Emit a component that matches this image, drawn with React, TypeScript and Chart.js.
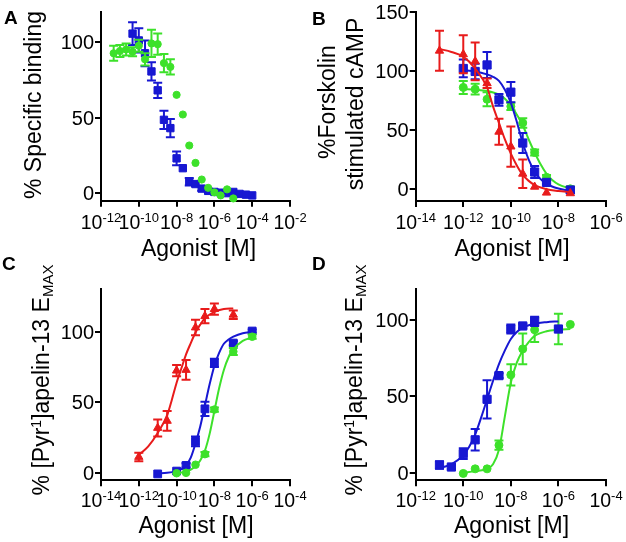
import React, { useEffect, useRef } from 'react';
import { Chart, registerables } from 'chart.js';

Chart.register(...registerables);

const W = 626;
const H = 542;
const FONT = '"Liberation Sans", Arial, Helvetica, sans-serif';
const BLUE = '#1717d2';
const GREEN = '#3de12a';
const RED = '#e81b1b';

// ---------- Panel A : % specific binding ----------
const aBlueX = [-10.33, -10, -9.67, -9.33, -9, -8.67, -8.33, -8, -7.67, -7.33, -7, -6.67, -6.33, -6, -5.67, -5.33, -5, -4.67, -4.33, -4];
const aBlueY = [105.5, 101, 92.5, 80.5, 68, 48.5, 43, 23, 16.5, 7.5, 6, 3, 1.5, 0.8, 0.3, 0, 0.8, -0.5, -1, -1.5];
const aBlueErr = [7.5, 8, 8.5, 6, 5, 6, 6, 4.5, 0, 2.5, 1.5, 1.5, 0, 0, 0, 0, 0, 0, 0, 0];
const aGreenX = [-11.33, -11, -10.67, -10.33, -10, -9.67, -9.33, -9, -8.67, -8.33, -8, -7.67, -7.33, -7, -6.67, -6.33, -6, -5.67, -5.33, -5];
const aGreenY = [92.5, 94, 95, 93.5, 97.5, 88.5, 99, 98.5, 86, 83.5, 65, 52, 31.5, 20, 9, 3.5, 0.5, -1.5, 2.5, -3.5];
const aGreenErr = [5, 4, 4, 3, 4, 4, 9, 7, 6, 5, 0, 0, 0, 0, 0, 0, 0, 0, 0, 0];
const aXTicks = [-12, -10, -8, -6, -4, -2];
const aYTicks = [0, 50, 100];

// ---------- Panel B : % forskolin stimulated cAMP ----------
const bRedX = [-13, -12, -11.5, -11, -10.5, -10, -9.5, -9, -8.5, -7.5];
const bRedY = [117, 114, 108, 89.5, 48.5, 36, 13, 2, -3, -3.5];
const bRedErr = [17, 16, 16, 4, 11, 17, 12, 0, 0, 0];
const bBlueX = [-12, -11.5, -11, -10.5, -10, -9.5, -9, -8.5, -7.5];
const bBlueY = [102, 99.5, 105, 75.5, 82, 39, 14.5, 5.7, -0.7];
const bBlueErr = [7.5, 6.5, 11, 5, 8.5, 8.5, 5, 1.5, 2.5];
const bGreenX = [-12, -11.5, -11, -10, -9.5, -9, -8.5, -7.5];
const bGreenY = [86, 84.5, 76, 70, 56, 31, 10, 0.3];
const bGreenErr = [5.5, 4.5, 6, 3, 4, 2.5, 2, 2];
const bRedCurveX = [-13, -12.5, -12, -11.5, -11, -10.75, -10.5, -10.25, -10, -9.75, -9.5, -9.25, -9, -8.5, -8, -7.5];
const bRedCurveY = [118.5, 116, 112, 102, 86, 70, 56, 42, 30, 20, 12, 7, 3.5, 0, -1.5, -2.5];
const bBlueCurveX = [-12, -11.5, -11, -10.75, -10.5, -10.25, -10, -9.75, -9.5, -9.25, -9, -8.75, -8.5, -8, -7.5];
const bBlueCurveY = [100.5, 99.5, 97, 95, 91.5, 84, 73, 57, 39, 25, 15, 8.5, 4.5, 0.5, -1.5];
const bGreenCurveX = [-12, -11.5, -11, -10.5, -10.25, -10, -9.75, -9.5, -9.25, -9, -8.75, -8.5, -8.25, -8, -7.5];
const bGreenCurveY = [84.5, 84, 83, 80, 76.5, 71, 63, 54, 42, 31, 21, 13, 7.5, 4, 0.5];
const bXTicks = [-14, -12, -10, -8, -6];
const bYTicks = [0, 50, 100, 150];

// ---------- Panel C : % [Pyr1]apelin-13 Emax ----------
const cRedX = [-12, -11, -10.5, -10, -9.5, -9, -8.5, -8, -7];
const cRedY = [11.5, 32, 37, 72.5, 73, 103, 111, 116, 112];
const cRedErr = [3, 6, 7, 4, 7, 5.5, 5, 4, 3];
const cBlueX = [-11, -10, -9.5, -9, -8.5, -8, -7, -6];
const cBlueY = [-0.5, 1.5, 5.5, 22.5, 45.5, 78, 92, 100.5];
const cBlueErr = [0, 0, 1.5, 3.5, 5, 3, 1.5, 1];
const cGreenX = [-10, -9.5, -9, -8.5, -8, -7, -6];
const cGreenY = [0, 0.3, 6, 13.5, 45, 86, 96.5];
const cGreenErr = [0, 0, 0, 1.5, 1.5, 2.5, 1.5];
const cRedCurveX = [-12, -11.5, -11, -10.5, -10.25, -10, -9.75, -9.5, -9.25, -9, -8.75, -8.5, -8, -7.5, -7];
const cRedCurveY = [13, 19, 28.5, 41, 52, 64, 74, 84, 92, 99.5, 105, 109.5, 114, 116, 116.5];
const cBlueCurveX = [-11, -10.5, -10, -9.75, -9.5, -9.25, -9, -8.75, -8.5, -8.25, -8, -7.75, -7.5, -7.25, -7, -6.5, -6];
const cBlueCurveY = [0, 0.3, 1.5, 2.8, 5.5, 11, 21, 33, 48, 63, 76, 85, 91.5, 94.5, 96.5, 99, 100];
const cGreenCurveX = [-10, -9.5, -9.25, -9, -8.75, -8.5, -8.25, -8, -7.75, -7.5, -7.25, -7, -6.5, -6];
const cGreenCurveY = [0, 1, 2.5, 5, 9, 16, 28, 44, 60, 73, 82, 87.5, 93.5, 96];
const cXTicks = [-14, -12, -10, -8, -6, -4];
const cYTicks = [0, 50, 100];

// ---------- Panel D : % [Pyr1]apelin-13 Emax ----------
const dBlueX = [-11, -10.5, -10, -9.5, -9, -8.5, -8, -7.5, -7, -6];
const dBlueY = [5, 3.7, 12.5, 21.5, 48, 63.5, 94, 96, 99, 94];
const dBlueErr = [2.5, 1.5, 3.5, 7, 12.5, 1.5, 3, 1.5, 3, 0];
const dGreenX = [-10, -9.5, -9, -8.5, -8, -7.5, -7, -6, -5.5];
const dGreenY = [-0.5, 2.5, 2.5, 18, 64, 81, 93.5, 94, 97];
const dGreenErr = [0, 0, 0, 3, 7, 10, 8, 10, 0];
const dBlueCurveX = [-11, -10.5, -10, -9.75, -9.5, -9.25, -9, -8.75, -8.5, -8.25, -8, -7.75, -7.5, -7, -6.5, -6];
const dBlueCurveY = [3, 5.5, 11.5, 17, 25, 36, 48, 60, 71, 80, 87.5, 92, 95, 97.5, 98.5, 99];
const dGreenCurveX = [-10, -9.5, -9, -8.75, -8.5, -8.25, -8, -7.75, -7.5, -7.25, -7, -6.5, -6, -5.5];
const dGreenCurveY = [0, 1, 2.5, 5.5, 15, 37, 59, 72, 80, 85.5, 89.5, 92.5, 93.5, 94];
const dXTicks = [-12, -10, -8, -6, -4];
const dYTicks = [0, 50, 100];

// ---------- helpers ----------
type Part = { t: string; size: number; dy?: number; bold?: boolean };

function drawRich(ctx: CanvasRenderingContext2D, parts: Part[], x: number, y: number, align: string, rot = 0) {
  ctx.save();
  ctx.translate(x, y);
  if (rot) ctx.rotate(rot);
  ctx.textBaseline = 'alphabetic';
  ctx.textAlign = 'left';
  ctx.fillStyle = '#000';
  let total = 0;
  const widths = parts.map((p) => {
    ctx.font = `${p.bold ? 'bold ' : ''}${p.size}px ${FONT}`;
    const w = ctx.measureText(p.t).width;
    total += w;
    return w;
  });
  let cx = align === 'center' ? -total / 2 : align === 'right' ? -total : 0;
  parts.forEach((p, i) => {
    ctx.font = `${p.bold ? 'bold ' : ''}${p.size}px ${FONT}`;
    ctx.fillText(p.t, cx, p.dy || 0);
    cx += widths[i];
  });
  ctx.restore();
}

const pts = (xs: number[], ys: number[]) => xs.map((x, i) => ({ x, y: ys[i] }));

function markers(xs: number[], ys: number[], errs: number[], color: string, shape: string, radius: number, order: number) {
  return {
    data: pts(xs, ys),
    errs,
    showLine: false,
    pointStyle: shape,
    pointRadius: radius,
    pointBackgroundColor: color,
    pointBorderColor: color,
    pointBorderWidth: 1,
    borderColor: color,
    backgroundColor: color,
    order,
    clip: false,
  };
}

function curve(xs: number[], ys: number[], color: string, order: number) {
  return {
    data: pts(xs, ys),
    showLine: true,
    pointRadius: 0,
    borderColor: color,
    borderWidth: 2,
    cubicInterpolationMode: 'monotone',
    fill: false,
    order,
    clip: false,
  };
}

const errorBars = {
  id: 'errorBars',
  beforeDatasetDraw(chart: any, args: any) {
    const ds = chart.data.datasets[args.index];
    if (!ds.errs) return;
    const ctx = chart.ctx as CanvasRenderingContext2D;
    const ys = chart.scales.y;
    ctx.save();
    ctx.strokeStyle = ds.borderColor;
    ctx.lineWidth = 2;
    args.meta.data.forEach((el: any, i: number) => {
      const e = ds.errs[i];
      if (!e) return;
      const v = ds.data[i].y;
      const top = ys.getPixelForValue(v + e);
      const bot = ys.getPixelForValue(v - e);
      const x = el.x;
      ctx.beginPath();
      ctx.moveTo(x, top);
      ctx.lineTo(x, bot);
      ctx.moveTo(x - 4.5, top);
      ctx.lineTo(x + 4.5, top);
      ctx.moveTo(x - 4.5, bot);
      ctx.lineTo(x + 4.5, bot);
      ctx.stroke();
    });
    ctx.restore();
  },
};

const EMAX_TITLE: Part[] = [
  { t: '% [Pyr', size: 23 },
  { t: '1', size: 14, dy: -8 },
  { t: ']apelin-13 E', size: 23 },
  { t: 'MAX', size: 15, dy: 4 },
];

const PANELS: any[] = [
  {
    id: 'A',
    area: { l: 101, r: 290, t: 11.7, b: 200.7 },
    x: [-12, -2], y: [-5, 120], xTicks: aXTicks, yTicks: aYTicks,
    letter: { x: 4, y: 24 },
    yTitle: [{ parts: [{ t: '% Specific binding', size: 23 }], x: 41, y: 105 }],
    xTitle: { x: 198.5, y: 256 }, tickBase: 229,
    datasets: [
      markers(aGreenX, aGreenY, aGreenErr, GREEN, 'circle', 3.6, 1),
      markers(aBlueX, aBlueY, aBlueErr, BLUE, 'rect', 5.2, 2),
    ],
  },
  {
    id: 'B',
    area: { l: 415.7, r: 606, t: 11.7, b: 201 },
    x: [-14, -6], y: [-10, 150], xTicks: bXTicks, yTicks: bYTicks,
    letter: { x: 312, y: 25 },
    yTitle: [
      { parts: [{ t: '%Forskolin', size: 23 }], x: 335, y: 102 },
      { parts: [{ t: 'stimulated cAMP', size: 23 }], x: 363, y: 104 },
    ],
    xTitle: { x: 512, y: 256 }, tickBase: 229,
    datasets: [
      markers(bRedX, bRedY, bRedErr, RED, 'triangle', 4.8, 1),
      curve(bRedCurveX, bRedCurveY, RED, 2),
      markers(bBlueX, bBlueY, bBlueErr, BLUE, 'rect', 5.8, 3),
      curve(bBlueCurveX, bBlueCurveY, BLUE, 4),
      markers(bGreenX, bGreenY, bGreenErr, GREEN, 'circle', 4, 5),
      curve(bGreenCurveX, bGreenCurveY, GREEN, 6),
    ],
  },
  {
    id: 'C',
    area: { l: 101, r: 290, t: 289.3, b: 480.3 },
    x: [-14, -4], y: [-5, 130], xTicks: cXTicks, yTicks: cYTicks,
    letter: { x: 2, y: 270 },
    yTitle: [{ parts: EMAX_TITLE, x: 48.5, y: 380 }],
    xTitle: { x: 196, y: 533 }, tickBase: 507,
    datasets: [
      markers(cRedX, cRedY, cRedErr, RED, 'triangle', 4.8, 1),
      curve(cRedCurveX, cRedCurveY, RED, 2),
      markers(cGreenX, cGreenY, cGreenErr, GREEN, 'circle', 3.8, 3),
      curve(cGreenCurveX, cGreenCurveY, GREEN, 4),
      markers(cBlueX, cBlueY, cBlueErr, BLUE, 'rect', 5.5, 5),
      curve(cBlueCurveX, cBlueCurveY, BLUE, 6),
    ],
  },
  {
    id: 'D',
    area: { l: 415.7, r: 606, t: 289.3, b: 480.3 },
    x: [-12, -4], y: [-5, 120], xTicks: dXTicks, yTicks: dYTicks,
    letter: { x: 312, y: 270 },
    yTitle: [{ parts: EMAX_TITLE, x: 361.5, y: 380 }],
    xTitle: { x: 511.5, y: 533 }, tickBase: 507,
    datasets: [
      markers(dBlueX, dBlueY, dBlueErr, BLUE, 'rect', 5.8, 1),
      curve(dBlueCurveX, dBlueCurveY, BLUE, 2),
      markers(dGreenX, dGreenY, dGreenErr, GREEN, 'circle', 4, 3),
      curve(dGreenCurveX, dGreenCurveY, GREEN, 4),
    ],
  },
];

function decor(spec: any) {
  return {
    id: 'decor' + spec.id,
    afterDraw(chart: any) {
      const ctx = chart.ctx as CanvasRenderingContext2D;
      const xs = chart.scales.x;
      const ys = chart.scales.y;
      drawRich(ctx, [{ t: spec.id, size: 19, bold: true }], spec.letter.x, spec.letter.y, 'left');
      spec.yTicks.forEach((v: number) => {
        drawRich(ctx, [{ t: String(v), size: 20 }], spec.area.l - 7, ys.getPixelForValue(v) + 7, 'right');
      });
      spec.xTicks.forEach((v: number) => {
        drawRich(ctx, [{ t: '10', size: 19.5 }, { t: String(v), size: 13, dy: -7 }], xs.getPixelForValue(v), spec.tickBase, 'center');
      });
      drawRich(ctx, [{ t: 'Agonist [M]', size: 23 }], spec.xTitle.x, spec.xTitle.y, 'center');
      spec.yTitle.forEach((line: any) => drawRich(ctx, line.parts, line.x, line.y, 'center', -Math.PI / 2));
    },
  };
}

function axis(min: number, max: number, ticks: number[], fit: (s: any) => void) {
  return {
    type: 'linear',
    min,
    max,
    afterBuildTicks: (s: any) => {
      s.ticks = ticks.map((v) => ({ value: v }));
    },
    afterFit: fit,
    ticks: { display: false },
    grid: { display: true, drawOnChartArea: false, drawTicks: true, tickLength: 6, lineWidth: 2, color: '#000' },
    border: { display: true, color: '#000', width: 2 },
  };
}

function buildConfig(spec: any): any {
  const a = spec.area;
  return {
    type: 'scatter',
    data: { datasets: spec.datasets },
    options: {
      responsive: false,
      animation: false,
      devicePixelRatio: 1,
      events: [],
      layout: { padding: { left: 0, top: a.t, right: W - a.r, bottom: 0 } },
      plugins: { legend: { display: false }, tooltip: { enabled: false } },
      scales: {
        x: axis(spec.x[0], spec.x[1], spec.xTicks, (s: any) => { s.height = H - a.b; }),
        y: axis(spec.y[0], spec.y[1], spec.yTicks, (s: any) => { s.width = a.l; }),
      },
    },
    plugins: [errorBars, decor(spec)],
  };
}

function Panel({ spec }: { spec: any }) {
  const ref = useRef<HTMLCanvasElement>(null);
  useEffect(() => {
    const chart = new Chart(ref.current as HTMLCanvasElement, buildConfig(spec));
    return () => chart.destroy();
  }, [spec]);
  return (
    <canvas
      ref={ref}
      width={W}
      height={H}
      style={{ position: 'absolute', left: 0, top: 0, width: W, height: H }}
    />
  );
}

export default function App() {
  return (
    <div style={{ position: 'absolute', left: 0, top: 0, width: W, height: H, background: '#fff', overflow: 'hidden' }}>
      {PANELS.map((p) => (
        <Panel key={p.id} spec={p} />
      ))}
    </div>
  );
}
